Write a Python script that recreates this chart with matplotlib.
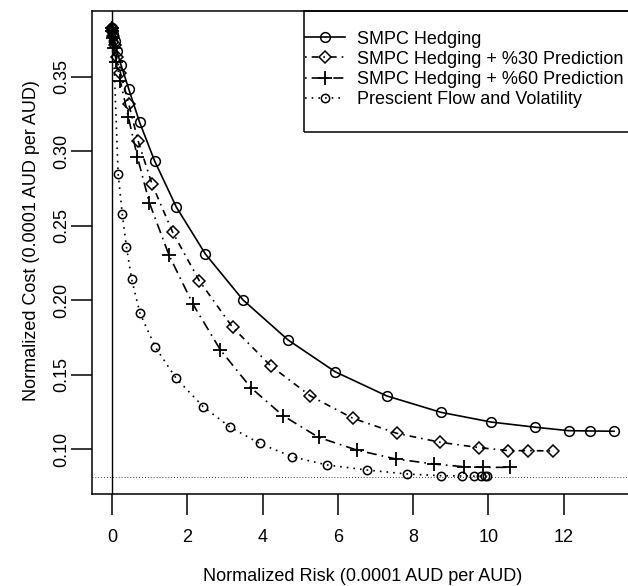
import matplotlib
matplotlib.use("Agg")
import matplotlib.pyplot as plt
from matplotlib.patches import Rectangle

plt.rcParams['font.family'] = ['Liberation Sans', 'DejaVu Sans']

# ---- data ----
smpc_x = [0.0, 0.01, 0.03, 0.07, 0.13, 0.24, 0.44, 0.73, 1.13, 1.71, 2.48, 3.48, 4.68,
          5.93, 7.30, 8.74, 10.07, 11.25, 12.13, 12.70, 13.34]
smpc_y = [0.383, 0.382, 0.379, 0.374, 0.367, 0.3576, 0.342, 0.3195, 0.2935, 0.2624, 0.231,
          0.2002, 0.1733, 0.152, 0.1358, 0.1248, 0.1183, 0.1148, 0.1125, 0.1123, 0.1121]

p30_x = [0.0, 0.01, 0.03, 0.07, 0.12, 0.22, 0.44, 0.69, 1.06, 1.61, 2.32, 3.20, 4.22,
         5.27, 6.40, 7.57, 8.72, 9.76, 10.53, 11.06, 11.71]
p30_y = [0.383, 0.381, 0.377, 0.371, 0.363, 0.3527, 0.332, 0.307, 0.278, 0.2456, 0.213,
         0.1819, 0.1559, 0.1358, 0.1208, 0.1107, 0.1047, 0.1011, 0.0991, 0.0991, 0.0989]

p60_x = [0.0, 0.01, 0.03, 0.06, 0.11, 0.22, 0.43, 0.67, 0.99, 1.51, 2.15, 2.88, 3.69,
         4.54, 5.49, 6.50, 7.54, 8.56, 9.34, 9.85, 10.58]
p60_y = [0.383, 0.381, 0.376, 0.369, 0.36, 0.347, 0.3232, 0.2964, 0.2655, 0.2304, 0.1973,
         0.1666, 0.1413, 0.1226, 0.108, 0.0995, 0.0935, 0.0901, 0.0883, 0.0879, 0.0879]

pres_x = [0.0, 0.01, 0.03, 0.16, 0.27, 0.38, 0.52, 0.74, 1.15, 1.70, 2.42, 3.14, 3.92,
          4.78, 5.71, 6.77, 7.85, 8.74, 9.31, 9.63, 9.81, 9.90, 9.97]
pres_y = [0.383, 0.38, 0.374, 0.285, 0.258, 0.236, 0.2141, 0.1913, 0.1685, 0.1477, 0.1286,
          0.1148, 0.104, 0.095, 0.0895, 0.0861, 0.0834, 0.0823, 0.0821, 0.082, 0.082, 0.082, 0.082]

floor_y = 0.0816

labels = ["SMPC Hedging", "SMPC Hedging + %30 Prediction",
          "SMPC Hedging + %60 Prediction", "Prescient Flow and Volatility"]
x_ticks = [0, 2, 4, 6, 8, 10, 12]
y_ticks = [0.10, 0.15, 0.20, 0.25, 0.30, 0.35]

# ---- figure ----
W, H = 628, 586
fig = plt.figure(figsize=(W / 100, H / 100), dpi=100)
ax_l, ax_r, ax_t, ax_b = 92, 634, 11, 494
ax = fig.add_axes([ax_l / W, (H - ax_b) / H, (ax_r - ax_l) / W, (ax_b - ax_t) / H])

lw = 1.2
ms = 7
styles = [
    dict(ls='-', marker='o', ms=ms, mew=1.1),
    dict(ls=(0, (1, 3, 4, 3)), marker='D', ms=ms - 1, mew=1.1),
    dict(ls=(0, (1, 3, 6, 3)), marker='+', ms=ms + 2.5, mew=1.3),
    dict(ls=(0, (1, 3)), marker='o', ms=ms - 1, mew=1.1),
]
series = [(smpc_x, smpc_y), (p30_x, p30_y), (p60_x, p60_y), (pres_x, pres_y)]
handles = []
for (xs, ys), st, lab in zip(series, styles, labels):
    h, = ax.plot(xs, ys, label=lab, color='black', lw=lw, mfc='none', mec='black', **st)
    handles.append(h)

ax.axvline(0, color='black', lw=1.0)
ax.axhline(floor_y, color='black', lw=0.6, ls=(0, (1, 2.5)))

ax.set_xlim(-0.534, 13.87)
ax.set_ylim(0.0700, 0.3941)
ax.set_xticks(x_ticks)
ax.set_xticklabels([str(t) for t in x_ticks])
ax.set_yticks(y_ticks)
ax.set_yticklabels([f"{t:.2f}" for t in y_ticks], rotation=90, va='center')

ax.tick_params(axis='both', direction='out', length=15, width=1.1, labelsize=13)
ax.tick_params(axis='x', pad=10)
ax.tick_params(axis='y', pad=0.5)
for s in ax.spines.values():
    s.set_linewidth(1.1)

ax.set_xlabel("Normalized Risk (0.0001 AUD per AUD)", fontsize=13)
ax.set_ylabel("Normalized Cost (0.0001 AUD per AUD)", fontsize=13)
ax.xaxis.set_label_coords(0.499, -0.170)
ax.yaxis.set_label_coords(-0.112, 0.524)
ax.xaxis.label.set_va('center')
ax.yaxis.label.set_va('center')

# legend frame
fx0 = (304 - ax_l) / (ax_r - ax_l)
fy0 = (ax_b - 132) / (ax_b - ax_t)
ax.add_patch(Rectangle((fx0, fy0), 1.0 - fx0, 1.0 - fy0, transform=ax.transAxes,
                       fill=False, edgecolor='black', lw=1.1, clip_on=False, zorder=5))
leg = ax.legend(handles=handles, loc='upper left',
                bbox_to_anchor=(fx0 + 0.002, (ax_b - 30.5) / (ax_b - ax_t)),
                frameon=False, fontsize=13, handlelength=2.2, handletextpad=0.7,
                labelspacing=0.18, borderpad=0.0, borderaxespad=0.0)

fig.savefig("out.png", dpi=100)
